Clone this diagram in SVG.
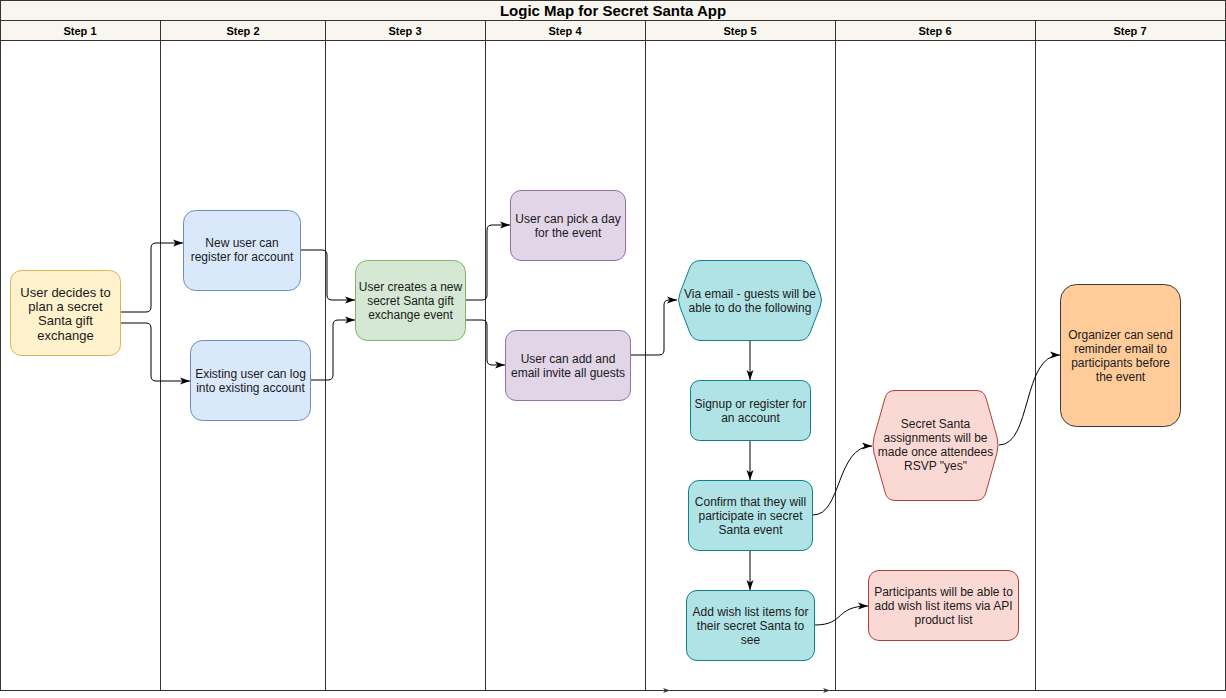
<svg xmlns="http://www.w3.org/2000/svg" width="1226" height="698" viewBox="0 0 1226 698">
<style>
.lane{fill:none;stroke:#333333;stroke-width:1}
.hdr{fill:#f8f6ee;stroke:#333333;stroke-width:1}
.ttl{font-family:"Liberation Sans",Arial,sans-serif;font-size:15px;font-weight:bold;fill:#000;text-anchor:middle}
.step{font-family:"Liberation Sans",Arial,sans-serif;font-size:11px;font-weight:bold;fill:#000;text-anchor:middle}
.t{font-family:"Liberation Sans",Arial,sans-serif;font-size:12px;fill:#1a1a1a;text-anchor:middle}
.t13{font-size:13px}
.yel{fill:#fff2cc;stroke:#d6b656}
.blu{fill:#dae8fc;stroke:#6c8ebf}
.grn{fill:#d5e8d4;stroke:#82b366}
.pur{fill:#e1d5e7;stroke:#9673a6}
.tea{fill:#b0e3e6;stroke:#0e8088}
.red{fill:#fad9d5;stroke:#ae4132}
.org{fill:#ffcc99;stroke:#36393d}
.c{fill:none;stroke:#000;stroke-width:1;marker-end:url(#arr)}
.cs{fill:none;stroke:#333333;stroke-width:1;marker-end:url(#arrs)}
</style>
<defs>
<marker id="arr" markerUnits="userSpaceOnUse" markerWidth="11" markerHeight="8" refX="10" refY="4" orient="auto">
<path d="M0,0.5 L10,4 L0,7.5 L2.5,4 Z" fill="#000"/>
</marker>
<marker id="arrs" markerUnits="userSpaceOnUse" markerWidth="8" markerHeight="6" refX="7" refY="3" orient="auto">
<path d="M0,0.5 L7,3 L0,5.5 L2,3 Z" fill="#333333"/>
</marker>
</defs>
<rect x="0" y="0" width="1226" height="698" fill="#ffffff"/>
<g id="pool">
<rect class="hdr" x="0.5" y="0.5" width="1225" height="20"/>
<rect class="hdr" x="0.5" y="20.5" width="1225" height="20"/>
<rect class="lane" x="0.5" y="0.5" width="1225" height="690"/>
<line class="lane" x1="160.5" y1="20.5" x2="160.5" y2="690.5"/>
<line class="lane" x1="325.5" y1="20.5" x2="325.5" y2="690.5"/>
<line class="lane" x1="485.5" y1="20.5" x2="485.5" y2="690.5"/>
<line class="lane" x1="645.5" y1="20.5" x2="645.5" y2="690.5"/>
<line class="lane" x1="835.5" y1="20.5" x2="835.5" y2="690.5"/>
<line class="lane" x1="1035.5" y1="20.5" x2="1035.5" y2="690.5"/>
<text class="ttl" x="613" y="16">Logic Map for Secret Santa App</text>
<text class="step" x="80" y="35">Step 1</text>
<text class="step" x="243" y="35">Step 2</text>
<text class="step" x="405" y="35">Step 3</text>
<text class="step" x="565" y="35">Step 4</text>
<text class="step" x="740" y="35">Step 5</text>
<text class="step" x="935" y="35">Step 6</text>
<text class="step" x="1130" y="35">Step 7</text>
</g>
<g id="connectors">
<path class="c" d="M120,312 L146,312 Q151,312 151,307 L151,248 Q151,243 156,243 L183,243"/>
<path class="c" d="M120,323 L146,323 Q151,323 151,328 L151,376 Q151,381 156,381 L190,381"/>
<path class="c" d="M300,250 L322,250 Q327,250 327,255 L327,295 Q327,300 332,300 L355,300"/>
<path class="c" d="M310,380 L328,380 Q333,380 333,375 L333,325 Q333,320 338,320 L355,320"/>
<path class="c" d="M466,300 L482,300 Q487,300 487,295 L487,230 Q487,225 492,225 L510,225"/>
<path class="c" d="M466,320 L482,320 Q487,320 487,325 L487,360 Q487,365 492,365 L505,365"/>
<path class="c" d="M631,355 L659,355 Q664,355 664,350 L664,305 Q664,300 669,300 L677,300"/>
<path class="c" d="M750,340 L750,380"/>
<path class="c" d="M750,441 L750,480"/>
<path class="c" d="M750,551 L750,590"/>
<path class="c" d="M813,515 C842,515 836,446 872,446"/>
<path class="c" d="M815,625 C845,625 835,606 868,606"/>
<path class="c" d="M999,445 C1032,445 1022,355 1060,355"/>
<path class="cs" d="M655,690.5 L670,690.5"/>
<path class="cs" d="M815,690.5 L830,690.5"/>
</g>
<g id="n1">
<rect class="yel" x="10.5" y="270.5" width="110" height="85" rx="11"/>
<text class="t t13" x="65.5" y="297"><tspan x="65.5">User decides to</tspan><tspan x="65.5" dy="14.2">plan a secret</tspan><tspan x="65.5" dy="14.2">Santa gift</tspan><tspan x="65.5" dy="14.2">exchange</tspan></text>
</g>
<g id="n2">
<rect class="blu" x="183.5" y="210.5" width="117" height="80" rx="12"/>
<text class="t" x="242" y="247"><tspan x="242">New user can</tspan><tspan x="242" dy="14">register for account</tspan></text>
</g>
<g id="n3">
<rect class="blu" x="190.5" y="340.5" width="120" height="80" rx="12"/>
<text class="t" x="250.5" y="378"><tspan x="250.5">Existing user can log</tspan><tspan x="250.5" dy="14">into existing account</tspan></text>
</g>
<g id="n4">
<rect class="grn" x="355.5" y="260.5" width="110" height="80" rx="12"/>
<text class="t" x="410.5" y="291"><tspan x="410.5">User creates a new</tspan><tspan x="410.5" dy="14">secret Santa gift</tspan><tspan x="410.5" dy="14">exchange event</tspan></text>
</g>
<g id="n5">
<rect class="pur" x="510.5" y="190.5" width="115" height="70" rx="10.5"/>
<text class="t" x="568" y="223"><tspan x="568">User can pick a day</tspan><tspan x="568" dy="14">for the event</tspan></text>
</g>
<g id="n6">
<rect class="pur" x="505.5" y="330.5" width="125" height="70" rx="10.5"/>
<text class="t" x="568" y="363"><tspan x="568">User can add and</tspan><tspan x="568" dy="14">email invite all guests</tspan></text>
</g>
<g id="n7">
<path class="tea" d="M701,260.5 L799,260.5 Q807,260.5 810,267 L820,293 Q823,300 820,307 L810,333 Q807,340.5 799,340.5 L701,340.5 Q693,340.5 690,333 L680,307 Q677,300 680,293 L690,267 Q693,260.5 701,260.5 Z"/>
<text class="t" x="750" y="298"><tspan x="750">Via email - guests will be</tspan><tspan x="750" dy="14">able to do the following</tspan></text>
</g>
<g id="n8">
<rect class="tea" x="690.5" y="380.5" width="120" height="60" rx="9"/>
<text class="t" x="750.5" y="408"><tspan x="750.5">Signup or register for</tspan><tspan x="750.5" dy="14">an account</tspan></text>
</g>
<g id="n9">
<rect class="tea" x="688.5" y="480.5" width="124" height="70" rx="10.5"/>
<text class="t" x="750.5" y="506"><tspan x="750.5">Confirm that they will</tspan><tspan x="750.5" dy="14">participate in secret</tspan><tspan x="750.5" dy="14">Santa event</tspan></text>
</g>
<g id="n10">
<rect class="tea" x="686.5" y="590.5" width="128" height="70" rx="10.5"/>
<text class="t" x="750.5" y="616"><tspan x="750.5">Add wish list items for</tspan><tspan x="750.5" dy="14">their secret Santa to</tspan><tspan x="750.5" dy="14">see</tspan></text>
</g>
<g id="n11">
<path class="red" d="M895,390.5 L976,390.5 Q984,390.5 986,398 L997,437 Q999,445 997,453 L986,492 Q984,500.5 976,500.5 L895,500.5 Q887,500.5 885,492 L874,453 Q872,445 874,437 L885,398 Q887,390.5 895,390.5 Z"/>
<text class="t" x="935.5" y="428"><tspan x="935.5">Secret Santa</tspan><tspan x="935.5" dy="14">assignments will be</tspan><tspan x="935.5" dy="14">made once attendees</tspan><tspan x="935.5" dy="14">RSVP "yes"</tspan></text>
</g>
<g id="n12">
<rect class="red" x="868.5" y="570.5" width="150" height="70" rx="10.5"/>
<text class="t" x="943.5" y="596"><tspan x="943.5">Participants will be able to</tspan><tspan x="943.5" dy="14">add wish list items via API</tspan><tspan x="943.5" dy="14">product list</tspan></text>
</g>
<g id="n13">
<rect class="org" x="1060.5" y="284.5" width="120" height="142" rx="16"/>
<text class="t" x="1120.5" y="339"><tspan x="1120.5">Organizer can send</tspan><tspan x="1120.5" dy="14">reminder email to</tspan><tspan x="1120.5" dy="14">participants before</tspan><tspan x="1120.5" dy="14">the event</tspan></text>
</g>
</svg>
